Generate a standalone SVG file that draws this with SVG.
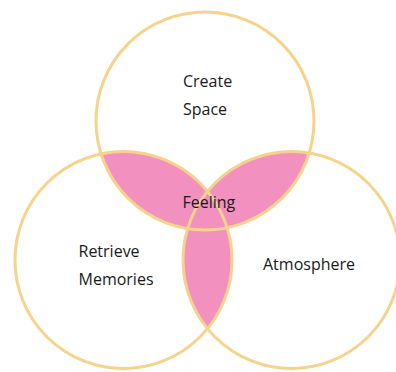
<svg xmlns="http://www.w3.org/2000/svg" width="396" height="372" viewBox="0 0 396 372">
  <style>
    .ring { fill: none; stroke: #F6D38C; stroke-width: 3; }
    .lens { fill: #F290C0; }
    .lbl { font-family: "Open Sans", "Noto Sans", sans-serif; font-size: 16px; fill: #1a1a1a; }
  </style>
  <defs>
    <clipPath id="clipTop"><circle cx="205" cy="121" r="109"/></clipPath>
    <clipPath id="clipLeft"><circle cx="123.5" cy="260" r="108.5"/></clipPath>
    <clipPath id="clipRight"><circle cx="291.5" cy="260" r="108.5"/></clipPath>
  </defs>
  <rect width="396" height="372" fill="#ffffff"/>
  <g id="overlaps">
    <g clip-path="url(#clipTop)"><circle class="lens" cx="123.5" cy="260" r="108.5"/></g>
    <g clip-path="url(#clipTop)"><circle class="lens" cx="291.5" cy="260" r="108.5"/></g>
    <g clip-path="url(#clipLeft)"><circle class="lens" cx="291.5" cy="260" r="108.5"/></g>
  </g>
  <g id="create-space">
    <circle class="ring" cx="205" cy="121" r="109"/>
    <text class="lbl" x="183" y="87">Create</text>
    <text class="lbl" x="183" y="115">Space</text>
  </g>
  <g id="retrieve-memories">
    <circle class="ring" cx="123.5" cy="260" r="108.5"/>
    <text class="lbl" x="78.5" y="257">Retrieve</text>
    <text class="lbl" x="78.5" y="284.5">Memories</text>
  </g>
  <g id="atmosphere">
    <circle class="ring" cx="291.5" cy="260" r="108.5"/>
    <text class="lbl" x="263" y="270">Atmosphere</text>
  </g>
  <g id="feeling">
    <text class="lbl" x="182.5" y="208">Feeling</text>
  </g>
</svg>
